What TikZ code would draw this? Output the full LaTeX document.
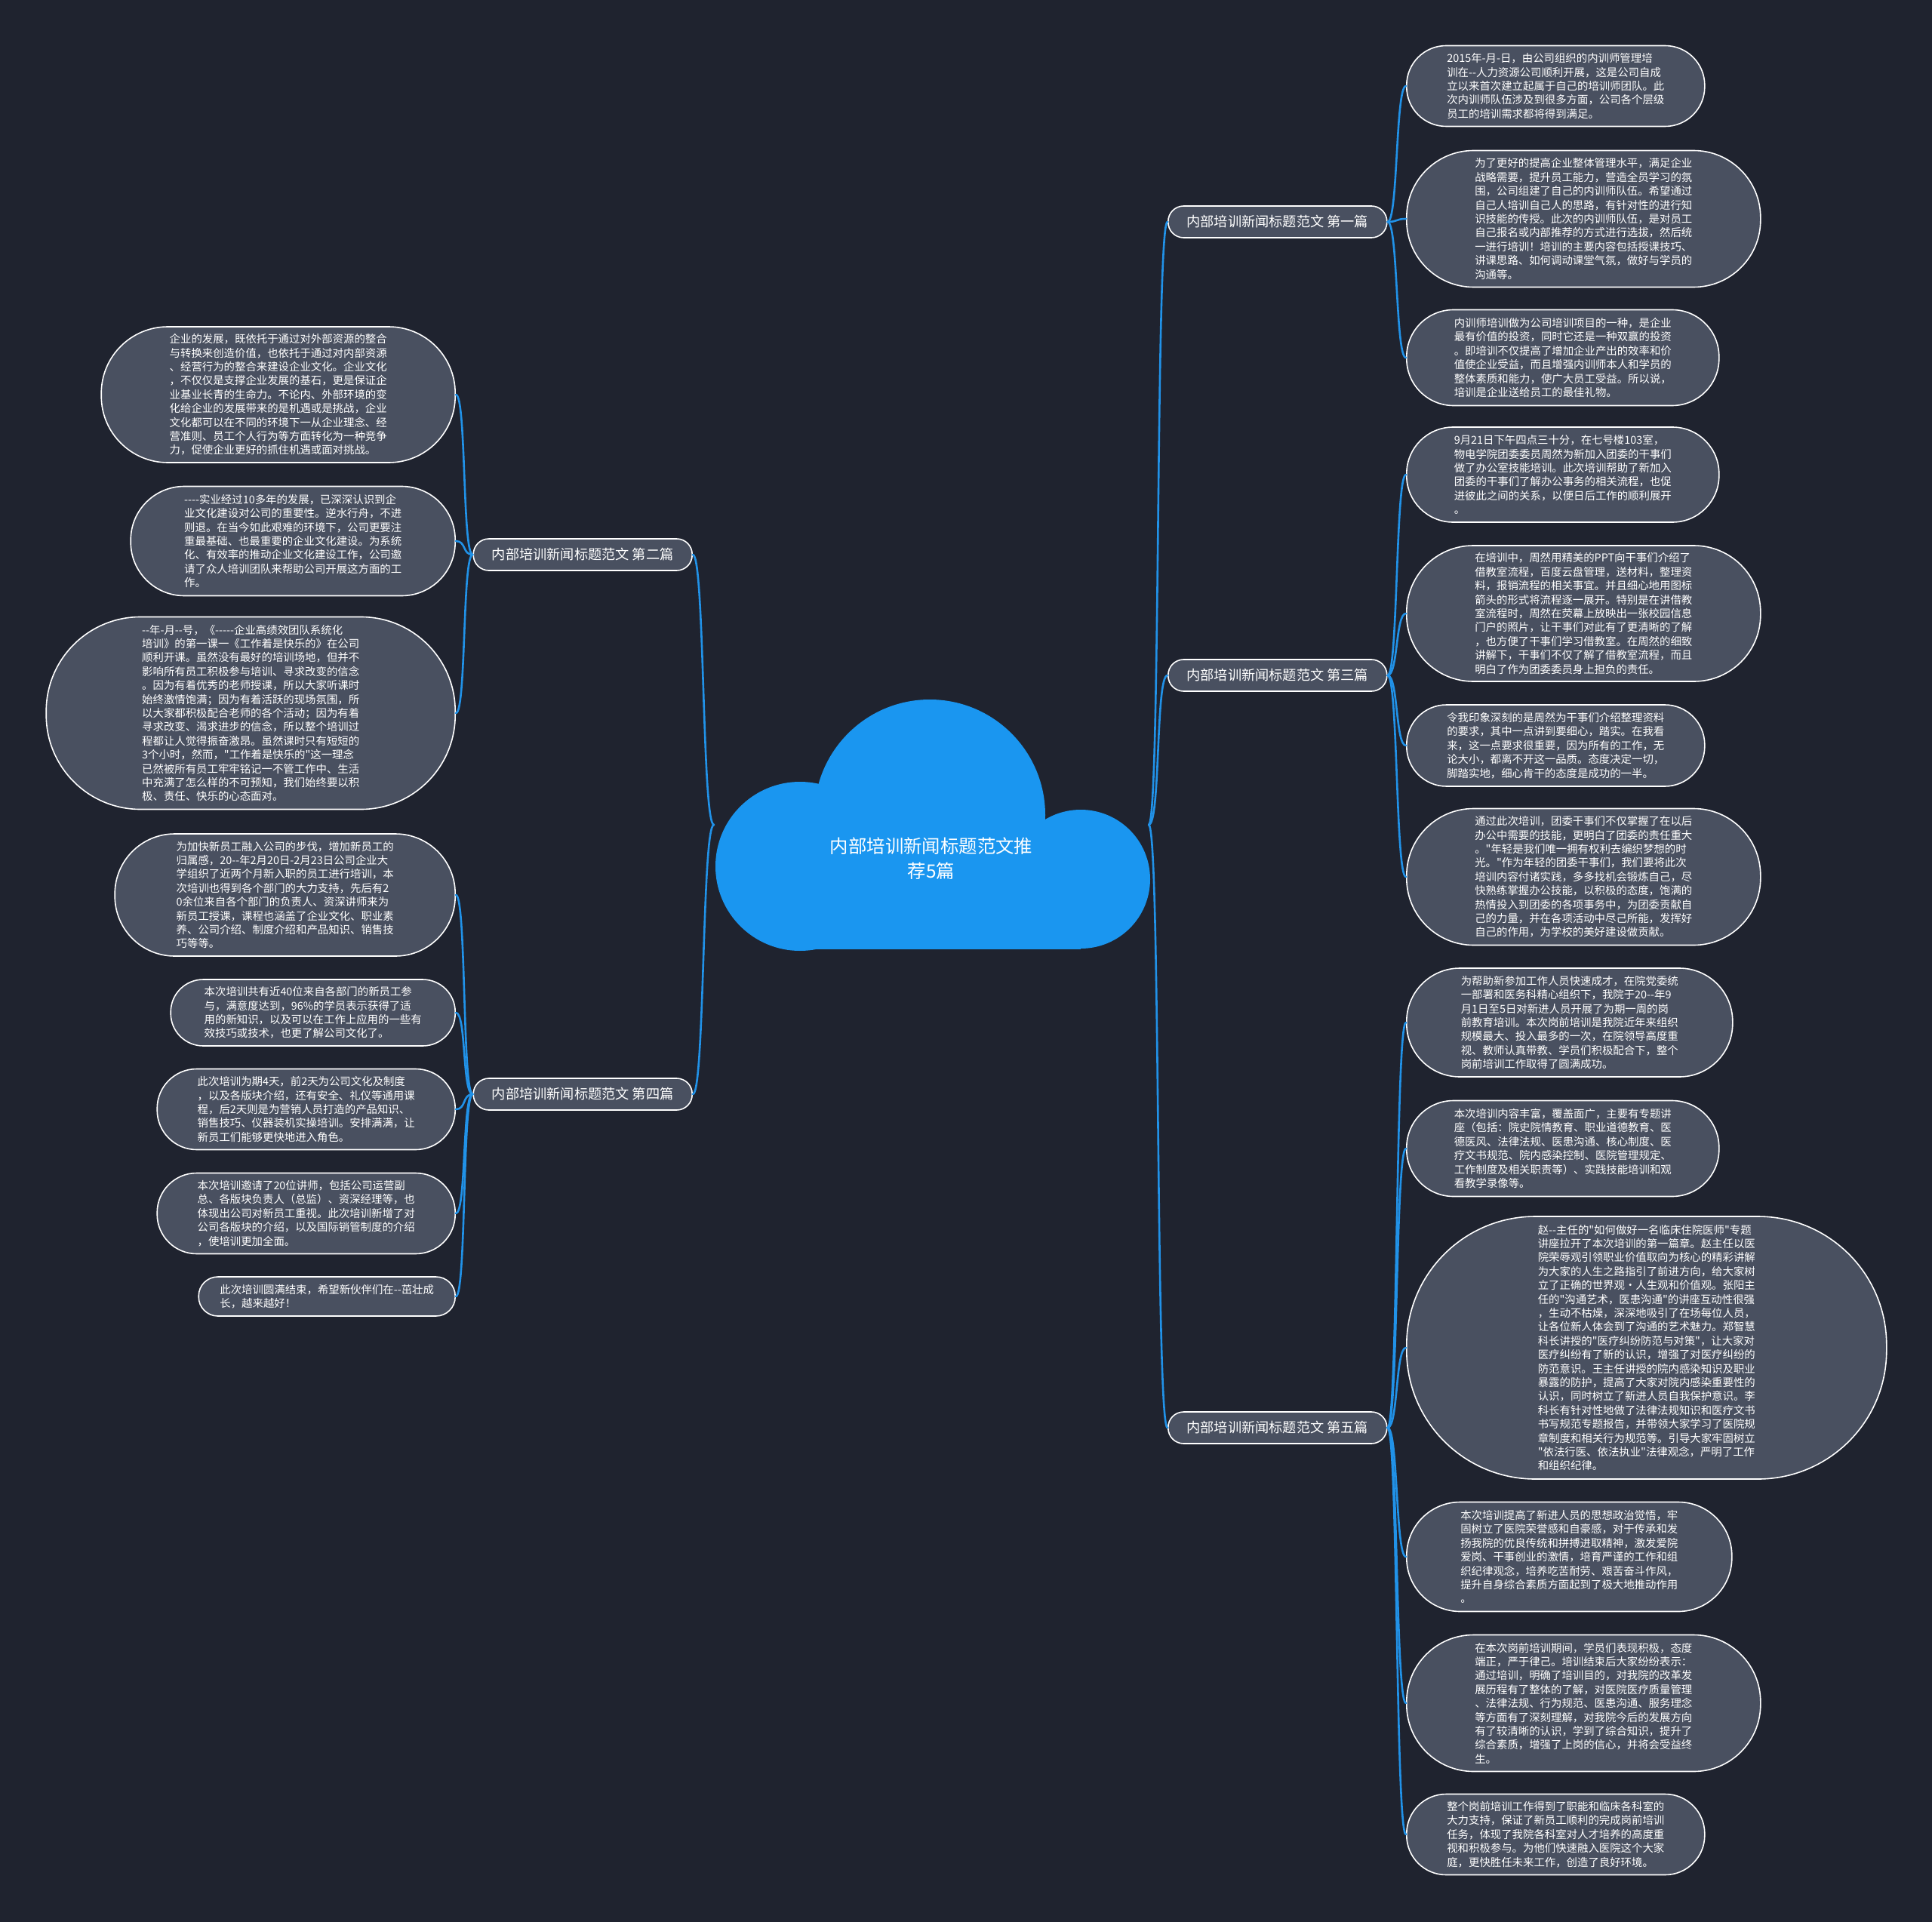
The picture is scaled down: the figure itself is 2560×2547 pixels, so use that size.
\documentclass[tikz,border=0pt]{standalone}
\usepackage{fontspec}
\setmainfont{Noto Sans CJK SC}[Ligatures=TeXOff]
\definecolor{bgnavy}{RGB}{31,35,47}
\definecolor{leafgray}{RGB}{73,80,96}
\definecolor{linkblue}{RGB}{33,146,232}
\definecolor{cloudblue}{RGB}{26,150,240}
\newcommand\leaffont{\fontsize{7.2}{9.2}\selectfont}
\newcommand\branchfont{\fontsize{9.1}{11}\selectfont}
\newcommand\rootfont{\fontsize{12.2}{16.5}\selectfont}

\begin{document}
\begin{tikzpicture}[x=0.5pt, y=-0.5pt, line cap=round, line join=round,
    leaf/.style 2 args={draw=white, fill=leafgray, text=white, line width=0.8pt,
      minimum width=#1*0.5pt, minimum height=#2*0.5pt,
      rounded corners=#2*0.245pt, inner sep=0pt, align=left, font=\leaffont},
    branch/.style={draw=white, fill=leafgray, text=white, line width=0.8pt,
      minimum width=145pt, minimum height=21pt, rounded corners=10.3pt,
      inner sep=0pt, font=\branchfont},
    linkline/.style={draw=linkblue, line width=1.3pt}]

  % background, fixes the page size
  \fill[bgnavy] (0,0) rectangle (2560,2547);
  \useasboundingbox (0,0) rectangle (2560,2547);

  % cloud in the middle
  \fill[cloudblue] (1232,1080) circle[radius=153];
  \fill[cloudblue] (1060,1148) circle[radius=112];
  \fill[cloudblue] (1432,1165) circle[radius=92];
  \fill[cloudblue] (1060,1090) rectangle (1432,1258);
  \node[text=white, font=\rootfont, align=center] (root) at (1234,1138)
    {内部培训新闻标题范文推\\荐5篇};
  \coordinate (rootL) at (946,1093);
  \coordinate (rootR) at (1522,1093);

  % the five branches
  \node[branch, anchor=west] (b1) at (1547,294) {内部培训新闻标题范文 第一篇};
  \node[branch, anchor=east] (b2) at (918,735) {内部培训新闻标题范文 第二篇};
  \node[branch, anchor=west] (b3) at (1547,895) {内部培训新闻标题范文 第三篇};
  \node[branch, anchor=east] (b4) at (918,1450) {内部培训新闻标题范文 第四篇};
  \node[branch, anchor=west] (b5) at (1547,1892) {内部培训新闻标题范文 第五篇};

  % right column
  \node[leaf={395}{107}, anchor=west] (r1) at (1863,114) {2015年-月-日，由公司组织的内训师管理培\\训在--人力资源公司顺利开展，这是公司自成\\立以来首次建立起属于自己的培训师团队。此\\次内训师队伍涉及到很多方面，公司各个层级\\员工的培训需求都将得到满足。};
  \node[leaf={469}{181}, anchor=west] (r2) at (1863,290) {为了更好的提高企业整体管理水平，满足企业\\战略需要，提升员工能力，营造全员学习的氛\\围，公司组建了自己的内训师队伍。希望通过\\自己人培训自己人的思路，有针对性的进行知\\识技能的传授。此次的内训师队伍，是对员工\\自己报名或内部推荐的方式进行选拔，然后统\\一进行培训！培训的主要内容包括授课技巧、\\讲课思路、如何调动课堂气氛，做好与学员的\\沟通等。};
  \node[leaf={414}{127}, anchor=west] (r3) at (1863,474) {内训师培训做为公司培训项目的一种，是企业\\最有价值的投资，同时它还是一种双赢的投资\\。即培训不仅提高了增加企业产出的效率和价\\值使企业受益，而且增强内训师本人和学员的\\整体素质和能力，使广大员工受益。所以说，\\培训是企业送给员工的最佳礼物。};
  \node[leaf={414}{126}, anchor=west] (r4) at (1863,629) {9月21日下午四点三十分，在七号楼103室，\\物电学院团委委员周然为新加入团委的干事们\\做了办公室技能培训。此次培训帮助了新加入\\团委的干事们了解办公事务的相关流程，也促\\进彼此之间的关系，以便日后工作的顺利展开\\。};
  \node[leaf={469}{180}, anchor=west] (r5) at (1863,813) {在培训中，周然用精美的PPT向干事们介绍了\\借教室流程，百度云盘管理，送材料，整理资\\料，报销流程的相关事宜。并且细心地用图标\\箭头的形式将流程逐一展开。特别是在讲借教\\室流程时，周然在荧幕上放映出一张校园信息\\门户的照片，让干事们对此有了更清晰的了解\\，也方便了干事们学习借教室。在周然的细致\\讲解下，干事们不仅了解了借教室流程，而且\\明白了作为团委委员身上担负的责任。};
  \node[leaf={395}{108}, anchor=west] (r6) at (1863,988) {令我印象深刻的是周然为干事们介绍整理资料\\的要求，其中一点讲到要细心，踏实。在我看\\来，这一点要求很重要，因为所有的工作，无\\论大小，都离不开这一品质。态度决定一切，\\脚踏实地，细心肯干的态度是成功的一半。};
  \node[leaf={469}{181}, anchor=west] (r7) at (1863,1162) {通过此次培训，团委干事们不仅掌握了在以后\\办公中需要的技能，更明白了团委的责任重大\\。"年轻是我们唯一拥有权利去编织梦想的时\\光。"作为年轻的团委干事们，我们要将此次\\培训内容付诸实践，多多找机会锻炼自己，尽\\快熟练掌握办公技能，以积极的态度，饱满的\\热情投入到团委的各项事务中，为团委贡献自\\己的力量，并在各项活动中尽己所能，发挥好\\自己的作用，为学校的美好建设做贡献。};
  \node[leaf={432}{144}, anchor=west] (r8) at (1863,1355) {为帮助新参加工作人员快速成才，在院党委统\\一部署和医务科精心组织下，我院于20--年9\\月1日至5日对新进人员开展了为期一周的岗\\前教育培训。本次岗前培训是我院近年来组织\\规模最大、投入最多的一次，在院领导高度重\\视、教师认真带教、学员们积极配合下，整个\\岗前培训工作取得了圆满成功。};
  \node[leaf={414}{127}, anchor=west] (r9) at (1863,1522) {本次培训内容丰富，覆盖面广，主要有专题讲\\座（包括：院史院情教育、职业道德教育、医\\德医风、法律法规、医患沟通、核心制度、医\\疗文书规范、院内感染控制、医院管理规定、\\工作制度及相关职责等）、实践技能培训和观\\看教学录像等。};
  \node[leaf={636}{348}, anchor=west] (r10) at (1863,1786) {赵--主任的"如何做好一名临床住院医师"专题\\讲座拉开了本次培训的第一篇章。赵主任以医\\院荣辱观引领职业价值取向为核心的精彩讲解\\为大家的人生之路指引了前进方向，给大家树\\立了正确的世界观·人生观和价值观。张阳主\\任的"沟通艺术，医患沟通"的讲座互动性很强\\，生动不枯燥，深深地吸引了在场每位人员，\\让各位新人体会到了沟通的艺术魅力。郑智慧\\科长讲授的"医疗纠纷防范与对策"，让大家对\\医疗纠纷有了新的认识，增强了对医疗纠纷的\\防范意识。王主任讲授的院内感染知识及职业\\暴露的防护，提高了大家对院内感染重要性的\\认识，同时树立了新进人员自我保护意识。李\\科长有针对性地做了法律法规知识和医疗文书\\书写规范专题报告，并带领大家学习了医院规\\章制度和相关行为规范等。引导大家牢固树立\\"依法行医、依法执业"法律观念，严明了工作\\和组织纪律。};
  \node[leaf={431}{145}, anchor=west] (r11) at (1863,2063) {本次培训提高了新进人员的思想政治觉悟，牢\\固树立了医院荣誉感和自豪感，对于传承和发\\扬我院的优良传统和拼搏进取精神，激发爱院\\爱岗、干事创业的激情，培育严谨的工作和组\\织纪律观念，培养吃苦耐劳、艰苦奋斗作风，\\提升自身综合素质方面起到了极大地推动作用\\。};
  \node[leaf={469}{181}, anchor=west] (r12) at (1863,2257) {在本次岗前培训期间，学员们表现积极，态度\\端正，严于律己。培训结束后大家纷纷表示：\\通过培训，明确了培训目的，对我院的改革发\\展历程有了整体的了解，对医院医疗质量管理\\、法律法规、行为规范、医患沟通、服务理念\\等方面有了深刻理解，对我院今后的发展方向\\有了较清晰的认识，学到了综合知识，提升了\\综合素质，增强了上岗的信心，并将会受益终\\生。};
  \node[leaf={395}{107}, anchor=west] (r13) at (1863,2431) {整个岗前培训工作得到了职能和临床各科室的\\大力支持，保证了新员工顺利的完成岗前培训\\任务，体现了我院各科室对人才培养的高度重\\视和积极参与。为他们快速融入医院这个大家\\庭，更快胜任未来工作，创造了良好环境。};

  % left column
  \node[leaf={469}{180}, anchor=east] (l1) at (604,523) {企业的发展，既依托于通过对外部资源的整合\\与转换来创造价值，也依托于通过对内部资源\\、经营行为的整合来建设企业文化。企业文化\\，不仅仅是支撑企业发展的基石，更是保证企\\业基业长青的生命力。不论内、外部环境的变\\化给企业的发展带来的是机遇或是挑战，企业\\文化都可以在不同的环境下一从企业理念、经\\营准则、员工个人行为等方面转化为一种竞争\\力，促使企业更好的抓住机遇或面对挑战。};
  \node[leaf={430}{145}, anchor=east] (l2) at (604,717) {----实业经过10多年的发展，已深深认识到企\\业文化建设对公司的重要性。逆水行舟，不进\\则退。在当今如此艰难的环境下，公司更要注\\重最基础、也最重要的企业文化建设。为系统\\化、有效率的推动企业文化建设工作，公司邀\\请了众人培训团队来帮助公司开展这方面的工\\作。};
  \node[leaf={542}{255}, anchor=east] (l3) at (604,945) {--年-月--号，《-----企业高绩效团队系统化\\培训》的第一课一《工作着是快乐的》在公司\\顺利开课。虽然没有最好的培训场地，但并不\\影响所有员工积极参与培训、寻求改变的信念\\。因为有着优秀的老师授课，所以大家听课时\\始终激情饱满；因为有着活跃的现场氛围，所\\以大家都积极配合老师的各个活动；因为有着\\寻求改变、渴求进步的信念，所以整个培训过\\程都让人觉得振奋激昂。虽然课时只有短短的\\3个小时，然而，"工作着是快乐的"这一理念\\已然被所有员工牢牢铭记一不管工作中、生活\\中充满了怎么样的不可预知，我们始终要以积\\极、责任、快乐的心态面对。};
  \node[leaf={451}{162}, anchor=east] (l4) at (604,1186) {为加快新员工融入公司的步伐，增加新员工的\\归属感，20--年2月20日-2月23日公司企业大\\学组织了近两个月新入职的员工进行培训，本\\次培训也得到各个部门的大力支持，先后有2\\0余位来自各个部门的负责人、资深讲师来为\\新员工授课，课程也涵盖了企业文化、职业素\\养、公司介绍、制度介绍和产品知识、销售技\\巧等等。};
  \node[leaf={377}{88}, anchor=east] (l5) at (604,1342) {本次培训共有近40位来自各部门的新员工参\\与，满意度达到，96\%的学员表示获得了适\\用的新知识，以及可以在工作上应用的一些有\\效技巧或技术，也更了解公司文化了。};
  \node[leaf={395}{107}, anchor=east] (l6) at (604,1470) {此次培训为期4天，前2天为公司文化及制度\\，以及各版块介绍，还有安全、礼仪等通用课\\程，后2天则是为营销人员打造的产品知识、\\销售技巧、仪器装机实操培训。安排满满，让\\新员工们能够更快地进入角色。};
  \node[leaf={395}{107}, anchor=east] (l7) at (604,1608) {本次培训邀请了20位讲师，包括公司运营副\\总、各版块负责人（总监）、资深经理等，也\\体现出公司对新员工重视。此次培训新增了对\\公司各版块的介绍，以及国际销管制度的介绍\\，使培训更加全面。};
  \node[leaf={340}{52}, anchor=east] (l8) at (604,1718) {此次培训圆满结束，希望新伙伴们在--茁壮成\\长，越来越好！};

  % connectors
  \foreach \b in {b1,b3,b5}
    \draw[linkline] (rootR) .. controls +(16,0) and +(-16,0) .. (\b.west);
  \foreach \b in {b2,b4}
    \draw[linkline] (rootL) .. controls +(-16,0) and +(16,0) .. (\b.east);
  \foreach \l in {r1,r2,r3}
    \draw[linkline] (b1.east) .. controls +(14,0) and +(-14,0) .. (\l.west);
  \foreach \l in {r4,r5,r6,r7}
    \draw[linkline] (b3.east) .. controls +(14,0) and +(-14,0) .. (\l.west);
  \foreach \l in {r8,r9,r10,r11,r12,r13}
    \draw[linkline] (b5.east) .. controls +(14,0) and +(-14,0) .. (\l.west);
  \foreach \l in {l1,l2,l3}
    \draw[linkline] (b2.west) .. controls +(-14,0) and +(14,0) .. (\l.east);
  \foreach \l in {l4,l5,l6,l7,l8}
    \draw[linkline] (b4.west) .. controls +(-14,0) and +(14,0) .. (\l.east);
\end{tikzpicture}
\end{document}
